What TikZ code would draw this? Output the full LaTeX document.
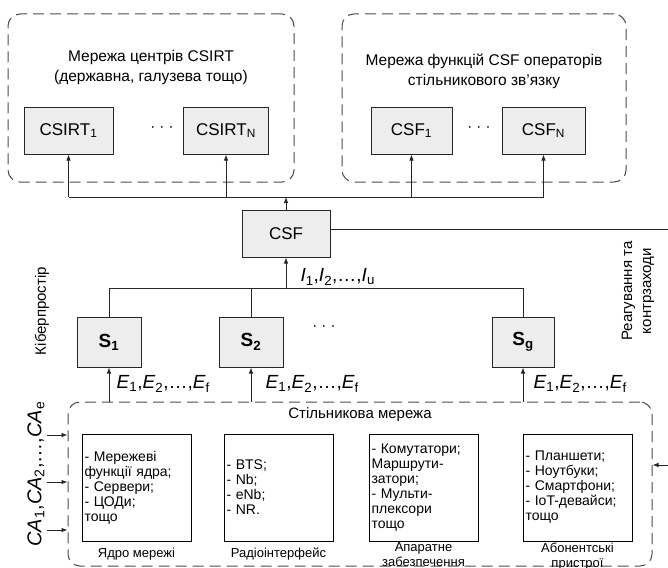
\documentclass[tikz,border=0pt]{standalone}
\usepackage{fontspec}
\setmainfont{Liberation Sans}
\usetikzlibrary{arrows.meta,calc}
\newcommand\fs[2]{\fontsize{#1}{#2}\selectfont}
\newcommand\itsub[2]{\textit{#1}\textsubscript{#2}}
\begin{document}
\begin{tikzpicture}[x=1pt,y=-1pt,
  grp/.style={draw=black!70, dash pattern=on 11pt off 6pt, rounded corners=12pt, line width=1pt, inner sep=0pt},
  gbox/.style={draw=black!85, fill=black!7, line width=1pt, minimum height=47, inner sep=0pt, font=\fs{17}{20}},
  sbox/.style={gbox, minimum width=64, minimum height=50, font=\fs{19}{22}\bfseries},
  wbox/.style={draw=black, fill=white, line width=1pt, minimum width=109, minimum height=107, text width=104, align=left, inner sep=2.5pt, font=\fs{14}{15}},
  ln/.style={draw=black!85, line width=0.9pt},
  arr/.style={ln, -{Latex[length=6pt,width=4.5pt]}},
  lab/.style={font=\fs{15.5}{20}, align=center},
  mlab/.style={font=\fs{19}{22}},
  blab/.style={font=\fs{13}{15.5}, align=center},
  dots/.style={font=\fs{15}{18}}
]
\useasboundingbox (0,0) rectangle (668,567);

% group frames
\node[grp, minimum width=286, minimum height=168] (gA) at (151,98) {};
\node[grp, minimum width=284, minimum height=168] (gB) at (484,98) {};
\node[grp, minimum width=584, minimum height=164] (cell) at (360,484) {};

\node[lab] (tA) at (151,67) {Мережа центрів CSIRT\\(державна, галузева тощо)};
\node[lab] (tB) at (484,71) {Мережа функцій CSF операторів\\стільникового зв’язку};

% top boxes
\node[gbox, minimum width=89] (c1) at (68.5,130.5) {CSIRT\textsubscript{1}};
\node[gbox, minimum width=85] (cN) at (226,130.5) {CSIRT\textsubscript{N}};
\node[dots] (d1) at (162,129) {· · ·};
\node[gbox, minimum width=81] (f1) at (411.5,130.5) {CSF\textsubscript{1}};
\node[gbox, minimum width=83] (fN) at (543.5,130.5) {CSF\textsubscript{N}};
\node[dots] (d2) at (479,129) {· · ·};

\node[gbox, minimum width=88] (csf) at (286,233.5) {CSF};

\coordinate (bus) at (0,197);
\draw[ln] (c1.south |- bus) -- (fN.south |- bus);
\foreach \n in {c1,cN,f1,fN} \draw[arr] (\n.south |- bus) -- (\n.south);
\draw[arr] (csf.north) -- (csf.north |- bus);

\coordinate (rtop) at (672,229);
\coordinate (rbot) at (672,465);
\draw[arr] (csf.east |- rtop) -- (rtop) -- (rbot) -- (cell.east |- rbot);

\node[lab, font=\fs{15}{20}, rotate=90] (kib) at (42,311) {Кіберпростір};
\node[lab, rotate=90, font=\fs{15}{19}] (reag) at (638,291) {Реагування та\\контрзаходи};

% S boxes
\node[sbox] (s1) at (109,342) {S\textsubscript{1}};
\node[sbox] (s2) at (251,342) {S\textsubscript{2}};
\node[sbox, minimum width=62] (sg) at (523,342) {S\textsubscript{g}};
\node[dots] (d3) at (324,328) {· · ·};

\coordinate (ibus) at (0,288);
\draw[ln] (s1.north) -- (s1.north |- ibus) -- (sg.north |- ibus) -- (sg.north);
\draw[ln] (s2.north) -- (s2.north |- ibus);
\draw[arr] (csf.south |- ibus) -- (csf.south);
\node[mlab, anchor=west] (ilab) at (297,277) {\itsub{I}{1},\itsub{I}{2},\ldots,\itsub{I}{u}};

\foreach \n in {s1,s2,sg} \draw[arr] (\n.south |- cell.north) -- (\n.south);
\node[mlab, anchor=west] (e1) at (113,384) {\itsub{E}{1},\itsub{E}{2},\ldots,\itsub{E}{f}};
\node[mlab, anchor=west] (e2) at (262,384) {\itsub{E}{1},\itsub{E}{2},\ldots,\itsub{E}{f}};
\node[mlab, anchor=west] (eg) at (530,384) {\itsub{E}{1},\itsub{E}{2},\ldots,\itsub{E}{f}};

% cellular network
\node[lab, font=\fs{15}{20}] (celltitle) at (360,415) {Стільникова мережа};
\node[wbox] (b1) at (136.5,487.5) {- Мережеві\\функції ядра;\\- Сервери;\\- ЦОДи;\\тощо};
\node[wbox] (b2) at (278.5,487.5) {- BTS;\\- Nb;\\- eNb;\\- NR.};
\node[wbox] (b3) at (423.5,487.5) {- Комутатори;\\Маршрути-\\затори;\\- Мульти-\\плексори\\тощо};
\node[wbox] (b4) at (577.5,487.5) {- Планшети;\\- Ноутбуки;\\- Смартфони;\\- IoT-девайси;\\тощо};

\node[blab] (l1) at (136.5,554) {Ядро мережі};
\node[blab] (l2) at (278.5,554) {Радіоінтерфейс};
\node[blab, anchor=north] (l3) at (423.5,539) {Апаратне\\забезпечення};
\node[blab, anchor=north] (l4) at (577.5,539) {Абонентські\\пристрої};

\node[mlab, rotate=90, font=\fs{20}{22}] (ca) at (36,474) {\itsub{CA}{1},\itsub{CA}{2},\ldots,\itsub{CA}{e}};
\foreach \y/\k in {435/a,482/b,530/c} {
  \coordinate (ca\k) at (47,\y);
  \draw[arr] (ca\k) -- (cell.west |- ca\k);
}
\end{tikzpicture}
\end{document}
